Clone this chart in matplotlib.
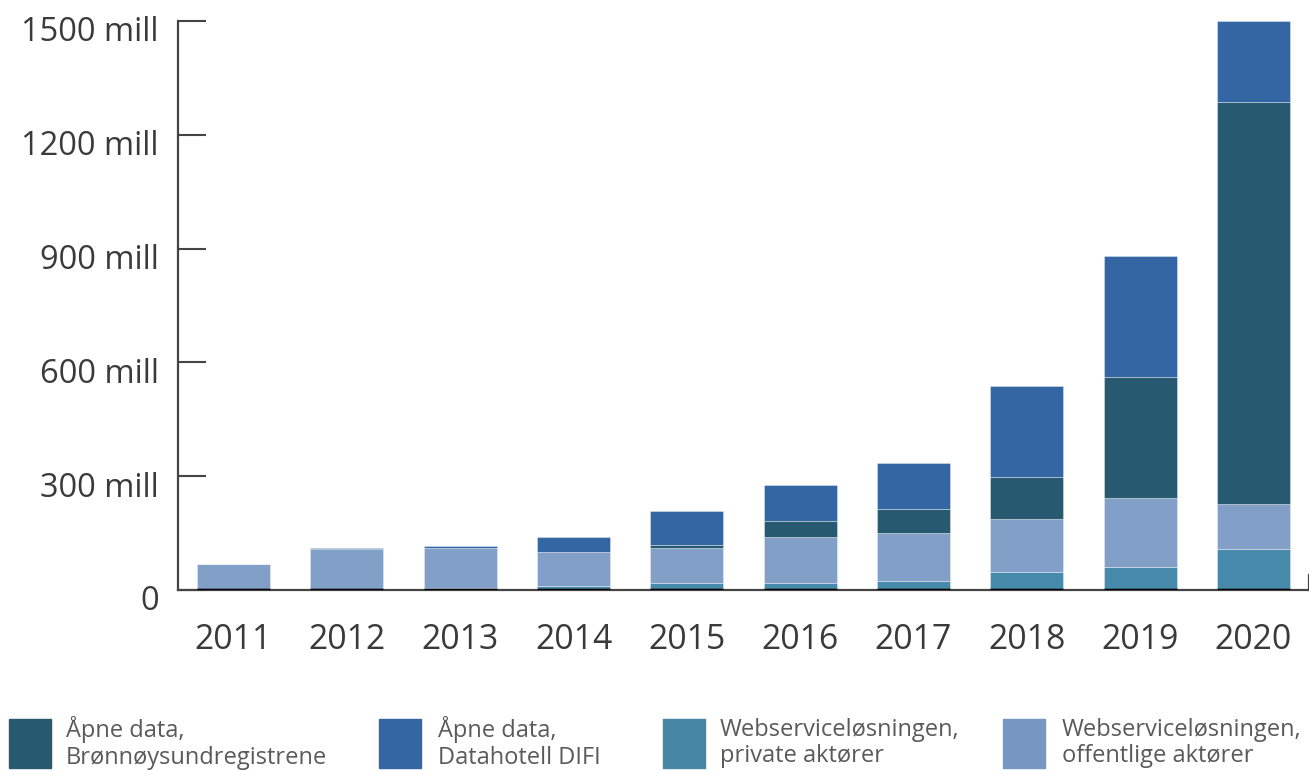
import matplotlib.pyplot as plt
import numpy as np
from matplotlib.patches import Rectangle
from matplotlib.transforms import ScaledTranslation

plt.rcParams['font.family'] = ['Open Sans', 'DejaVu Sans']

years = ['2011', '2012', '2013', '2014', '2015', '2016', '2017', '2018', '2019', '2020']
# values in millions, stacked bottom -> top
private = [0, 0, 6, 10, 19, 18, 24, 47, 61, 109]
offentlige = [68, 108, 104, 91, 91, 122, 127, 140, 182, 118]
bronnoy = [0, 0, 2, 0, 9, 42, 62, 110, 319, 1060]
difi = [0, 3, 4, 38, 89, 95, 123, 241, 318, 213]

labels = ['Åpne data,\nBrønnøysundregistrene', 'Åpne data,\nDatahotell DIFI',
          'Webserviceløsningen,\nprivate aktører', 'Webserviceløsningen,\noffentlige aktører']
colors = ['#275a70', '#3466a4', '#478aab', '#819fc7']
legend_colors = ['#275a70', '#3466a4', '#4787a6', '#7597c2']
yticks = [0, 300, 600, 900, 1200, 1500]
ytick_labels = ['0', '300 mill', '600 mill', '900 mill', '1200 mill', '1500 mill']

fig = plt.figure(figsize=(13.09, 7.71), dpi=100)
ax = fig.add_axes([178 / 1309, 181 / 771, 1 - 178 / 1309, 569 / 771])

x = np.arange(len(years))
w = 0.645
bottom = np.zeros(len(years))
stack = [(private, colors[2]), (offentlige, colors[3]), (bronnoy, colors[0]), (difi, colors[1])]
for vals, c in stack:
    vals = np.array(vals, dtype=float)
    ax.bar(x, vals, w, bottom=bottom, color=c, edgecolor=(1, 1, 1, 0.35), linewidth=0.7)
    bottom += vals

# thin black base under each bar
ax.hlines(np.zeros(len(years)), x - w / 2, x + w / 2, color='black', linewidth=2.5, zorder=3)

ax.set_xlim(-0.49, len(years) - 0.51)
ax.set_ylim(0, 1500)
ax.set_xticks(x)
ax.set_xticklabels(years)
ax.set_yticks(yticks)
ax.set_yticklabels(ytick_labels)

for s in ['top', 'right']:
    ax.spines[s].set_visible(False)
for s in ['left', 'bottom']:
    ax.spines[s].set_color('#444444')
    ax.spines[s].set_linewidth(1.6)

ax.tick_params(axis='y', direction='in', length=20, width=1.5, color='#444444',
               labelsize=23.5, labelcolor='#3a3a3a', pad=14)
ax.tick_params(axis='x', length=0, labelsize=24.3, labelcolor='#3a3a3a', pad=24)
off = ScaledTranslation(0, -8 / 100, fig.dpi_scale_trans)
for lab in ax.get_yticklabels():
    lab.set_transform(lab.get_transform() + off)

# small end mark on the right of the x-axis
ax.axvline(ax.get_xlim()[1], ymin=0, ymax=15 / 569, color='#444444', linewidth=1.6, clip_on=False)

# legend
sq_x = [9, 379, 663, 1003]
tx_x = [66, 438, 720, 1062]
for i in range(4):
    fig.patches.append(Rectangle((sq_x[i] / 1309, 3 / 771), 42 / 1309, 49 / 771,
                                 transform=fig.transFigure, color=legend_colors[i]))
    fig.text(tx_x[i] / 1309, 28 / 771, labels[i], fontsize=17, color='#5a5a5a',
             va='center', ha='left', linespacing=1.15)

fig.savefig('out.png', dpi=100)
